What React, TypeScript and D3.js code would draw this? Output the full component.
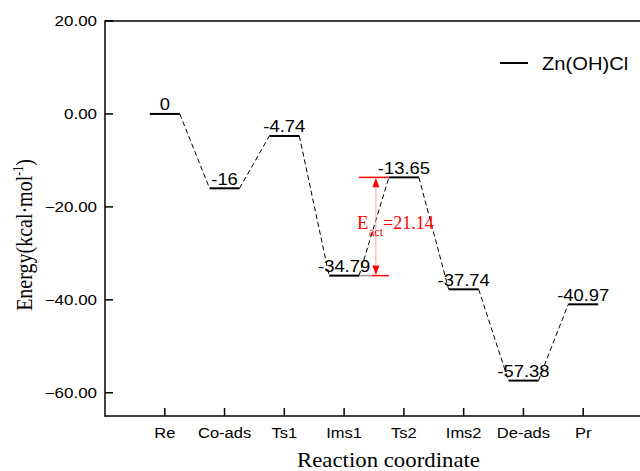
import React from "react";
import * as d3 from "d3";

const categories = ["Re", "Co-ads", "Ts1", "Ims1", "Ts2", "Ims2", "De-ads", "Pr"];
const energies = [0, -16, -4.74, -34.79, -13.65, -37.74, -57.38, -40.97];
const energyLabels = ["0", "-16", "-4.74", "-34.79", "-13.65", "-37.74", "-57.38", "-40.97"];
const yTicks = [20, 0, -20, -40, -60];
const seriesName = "Zn(OH)Cl";
const barrierFrom = 3; // Ims1
const barrierTo = 4; // Ts2
const barrierValue = "=21.14";

const W = 640;
const H = 471;
const SANS = "'Liberation Sans', Arial, sans-serif";
const SERIF = "'Liberation Serif', 'Times New Roman', serif";

function SText(props: {
  x: number; y: number; sx?: number; anchor?: string; size: number; family: string;
  fill?: string; children: React.ReactNode;
}) {
  const { x, y, sx = 1, anchor = "start", size, family, fill = "#000", children } = props;
  return (
    <text
      transform={`translate(${x},${y}) scale(${sx},1)`}
      textAnchor={anchor}
      fontSize={size}
      fontFamily={family}
      fill={fill}
    >
      {children}
    </text>
  );
}

export default function App() {
  const x = d3.scaleLinear().domain([0, 9]).range([105, 643]);
  const y = d3.scaleLinear().domain([-65, 20]).range([416, 21]);
  const half = 15;
  const fmt = d3.format(".2f");

  const levels = energies.map((e, i) => ({ cx: x(i + 1), cy: y(e), label: energyLabels[i], cat: categories[i] }));

  const connectors = levels.slice(0, -1).map((l, i) => {
    const n = levels[i + 1];
    return d3.line()([[l.cx + half, l.cy], [n.cx - half, n.cy]]) as string;
  });

  const xT = x(barrierTo + 1);
  const xI = x(barrierFrom + 1);
  const yTop = y(energies[barrierTo]);
  const yBot = y(energies[barrierFrom]);
  const arrowX = xT - 28;
  const headH = 10;
  const headW = 3.5;

  return (
    <svg width={W} height={H} style={{ position: "absolute", left: 0, top: 0, background: "#fff" }}>
      {/* axes */}
      <line x1={105} y1={21} x2={W} y2={21} stroke="#000" strokeWidth={1.5} />
      <line x1={105} y1={416} x2={W} y2={416} stroke="#000" strokeWidth={1.5} />
      <line x1={105} y1={20.25} x2={105} y2={416.75} stroke="#000" strokeWidth={1.5} />

      {yTicks.map((t) => (
        <g key={t}>
          <line x1={105} x2={113} y1={y(t)} y2={y(t)} stroke="#000" strokeWidth={1.5} />
          <SText x={97} y={y(t) + 5} sx={1.17} anchor="end" size={14.5} family={SANS}>
            {fmt(t)}
          </SText>
        </g>
      ))}

      {levels.map((l) => (
        <g key={l.cat}>
          <line x1={l.cx} x2={l.cx} y1={416} y2={408} stroke="#000" strokeWidth={1.5} />
          <SText x={l.cx} y={438} sx={1.1} anchor="middle" size={15} family={SANS}>
            {l.cat}
          </SText>
        </g>
      ))}

      {/* connectors */}
      {connectors.map((d, i) => (
        <path key={i} d={d} fill="none" stroke="#000" strokeWidth={1} strokeDasharray="5,3" />
      ))}

      {/* levels */}
      {levels.map((l) => (
        <g key={"lv" + l.cat}>
          <line x1={l.cx - half} x2={l.cx + half} y1={l.cy} y2={l.cy} stroke="#000" strokeWidth={2} />
          <SText x={l.cx} y={l.cy - 3.5} sx={1.15} anchor="middle" size={16} family={SANS}>
            {l.label}
          </SText>
        </g>
      ))}

      {/* barrier annotation */}
      <line x1={xT - 45} x2={xT - half} y1={yTop} y2={yTop} stroke="#ff0000" strokeWidth={1.5} />
      <line x1={xI + half} x2={xT - 32} y1={yBot} y2={yBot} stroke="#999" strokeWidth={1.5} />
      <line x1={xT - 32} x2={xT - half} y1={yBot} y2={yBot} stroke="#ff0000" strokeWidth={1.5} />
      <line x1={arrowX} x2={arrowX} y1={yTop + headH} y2={yBot - headH} stroke="#f4a0a0" strokeWidth={1} />
      <path d={`M${arrowX},${yTop + 0.5} L${arrowX - headW},${yTop + headH} L${arrowX + headW},${yTop + headH} Z`} fill="#ff0000" />
      <path d={`M${arrowX},${yBot - 0.5} L${arrowX - headW},${yBot - headH} L${arrowX + headW},${yBot - headH} Z`} fill="#ff0000" />
      <text x={357} y={229} fontSize={18.5} fontFamily={SERIF} fill="#ff0000">E</text>
      <text x={369} y={235.5} fontSize={12} fontFamily={SERIF} fill="#ff0000">act</text>
      <text x={383} y={229} fontSize={18} fontFamily={SERIF} fill="#ff0000">
        {barrierValue}
      </text>

      {/* legend */}
      <line x1={500} x2={528} y1={63} y2={63} stroke="#000" strokeWidth={2} />
      <SText x={542} y={69.5} sx={1.12} size={18} family={SANS}>
        {seriesName}
      </SText>

      {/* axis titles */}
      <SText x={388.5} y={467} sx={1.14} anchor="middle" size={20} family={SERIF}>
        Reaction coordinate
      </SText>
      <text
        transform={`translate(32,235) scale(1.14,1) rotate(-90)`}
        textAnchor="middle"
        fontSize={20}
        fontFamily={SERIF}
        fill="#000"
      >
        Energy(kcal·mol<tspan fontSize={12} dy={-8}>-1</tspan><tspan dy={8}>)</tspan>
      </text>
    </svg>
  );
}
